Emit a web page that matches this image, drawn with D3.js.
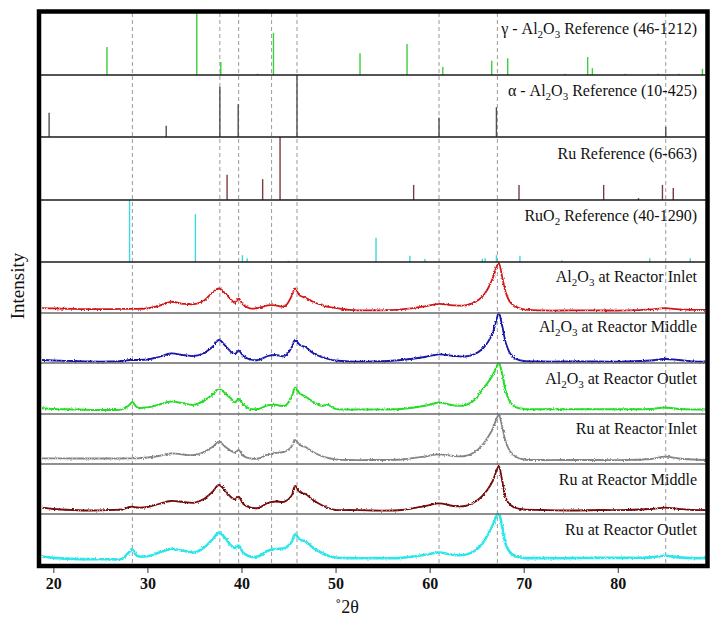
<!DOCTYPE html>
<html>
<head>
<meta charset="utf-8">
<script src="https://cdn.jsdelivr.net/npm/d3@7/dist/d3.min.js"></script>
<style>
  html, body { margin: 0; padding: 0; background: #fff; }
  svg { display: block; }
  text { font-family: 'Liberation Serif', 'DejaVu Serif', serif; fill: #111; }
</style>
</head>
<body>
<svg id="chart" width="710" height="617"></svg>
<script>
// ---- data -------------------------------------------------------------
// stick patterns of the reference cards: [2θ, relative intensity %]
const gammaAl2O3Ref = [[25.7,45],[35.25,100],[37.8,21],[41.7,2],[43.4,68],[52.6,35],[57.6,50],[61.4,13],
  [66.6,23],[68.3,27],[74.4,2],[76.8,29],[77.3,11],[80.8,2],[84.3,2],[86.5,2],[89.0,10]];
const alphaAl2O3Ref = [[19.55,39],[32.0,18],[37.7,81],[39.65,53],[45.9,100],[61.0,31],[67.1,48],[85.1,16]];
const ruRef = [[38.47,40],[42.25,33],[44.1,100],[58.3,24],[69.5,24],[78.5,24],[82.2,3],[84.75,24],[85.9,19]];
const ruO2Ref = [[28.1,100],[35.1,77],[40.1,11],[40.6,6],[44.97,2],[54.3,39],[57.9,10],[59.5,5],[65.6,5],
  [65.9,6],[67.1,11],[69.6,10],[74.05,3],[83.4,6],[87.7,6]];

// measured patterns, sampled on a common 2θ grid (relative intensity %)
const twoTheta = [18.8,20,22,24,26,27.3,28.1,28.4,28.9,30,31.2,32.5,33.8,35,36,36.9,37.6,38.3,38.9,39.3,
  39.7,40.2,40.9,41.8,42.8,43.6,44.6,45.3,45.7,46.2,46.8,47.6,48.5,49.2,50,51.5,54,57,59.5,61,
  62.5,63.8,64.8,65.6,66.2,66.7,67.1,67.35,67.7,68.1,68.6,69.2,70,72,75,78,81,83.5,85,86.5,88,89.4];
const al2o3Inlet = [9.4,9,8,7.6,7.6,8,8,8.4,8,9,14,22,18,17.4,24,40,48,38,26,20,28,16,9,10,15,15,13,32,48,34,
  30,22,16,12,10,6,5,7,13,18,15,15,21,32,48,68,90,98,72,40,20,12,7,5,5,5,5,7,9.4,7,6,6];
const al2o3Middle = [6,5,4,3,3,4,6,6,6,7,12,19,16,14,20,32,46,34,22,18,24.6,14,7,6,14,16,14,30,46,36,
  32,20,12,8,5,3,3,6,12,17.4,14,13,18,28,42,60,86,100,76,40,18,8,4,3,3,3,3,5,8,6,3,3];
const al2o3Outlet = [11.4,10,9,8,8,9,18,23.4,13,13,18,24.6,21,18,26,38,49.4,40,30,22.6,30,18,10,10,17,18,16,32,51.4,40,
  34,24,16,18,10,9,9,10,16,22.6,17,17,28,48,62,76,92,100,80,44,22,13,10,9.4,9.4,9.4,9.4,10,12.6,10,9,9];
const ruInlet = [11.4,11.4,11,11,11,11,11.4,11.4,11.4,13,16,21.4,19,18,24,34,44.6,34,26,22.6,28,16,11.4,11,19,22,24.6,34,48,38,
  34,24,16,12,9.4,8,8,9,15,19.4,16,16,24,38,54,70,90,98,76,44,24,14,9,8,8,8,8,10,14.6,11,9,8];
const ruMiddle = [12.6,10,8,7,8,9,14,14.6,13,14,20,26,24,22.6,30,44,58,46,33.4,29.4,34.6,20,13.4,12,22,25,24.6,36,56,44,
  40,28,18,12,8,8,7,8,16,21.4,16,16,24,36,50,66,86,96,68,32,18,12,9,8,7,8,8,10,12.6,10,8,8];
const ruOutlet = [16.6,14,12,11.4,11.4,12,26,30,18,17,24,31.4,28,24.6,34,50,63.4,52,38,33.4,38,24,16.6,17,28,31.4,33.4,44,60,50,
  46,34,24,18,14.6,13.4,13.4,14,20,24.6,20,20,28,42,60,78,96,100,76,40,24,16.6,14,13.4,13.4,14,14,15,18,15,13.4,13.4];

// guide lines at the main reflections
const guides2Theta = [28.4, 37.7, 39.7, 43.2, 45.9, 61.0, 67.2, 85.1];
const xTicks = [20, 30, 40, 50, 60, 70, 80];

// panel stack, top to bottom
const refPanels = [
  { name: ["γ - Al", "2", "O", "3", " Reference (46-1212)"], sticks: gammaAl2O3Ref, color: "#3ccf3c" },
  { name: ["α - Al", "2", "O", "3", " Reference (10-425)"], sticks: alphaAl2O3Ref, color: "#505050" },
  { name: ["Ru Reference (6-663)"], sticks: ruRef, color: "#7d3b3b" },
  { name: ["RuO", "2", " Reference (40-1290)"], sticks: ruO2Ref, color: "#3cd8dc" }
];
const samplePanels = [
  { name: ["Al", "2", "O", "3", " at Reactor Inlet"], values: al2o3Inlet, color: "#d01818", w: 1.8 },
  { name: ["Al", "2", "O", "3", " at Reactor Middle"], values: al2o3Middle, color: "#1414a8", w: 1.8 },
  { name: ["Al", "2", "O", "3", " at Reactor Outlet"], values: al2o3Outlet, color: "#28dc28", w: 2 },
  { name: ["Ru at Reactor Inlet"], values: ruInlet, color: "#858585", w: 1.8 },
  { name: ["Ru at Reactor Middle"], values: ruMiddle, color: "#720808", w: 1.8 },
  { name: ["Ru at Reactor Outlet"], values: ruOutlet, color: "#2fe6ea", w: 2.6 }
];

const SERIF = "'Liberation Serif', 'DejaVu Serif', serif";
const LABEL_SIZE = 16;

// ---- layout -----------------------------------------------------------
const svg = d3.select("#chart");
const plot = { left: 41, right: 705.5, top: 13, bottom: 565 };
const bounds = [13, 75, 137, 200, 262, 313, 363, 414, 464, 514, 565];

const x = d3.scaleLinear().domain([18.72, 89.4]).range([41.3, 706.2]);

// slight jitter texture for the measured traces
const defs = svg.append("defs");
const f = defs.append("filter").attr("id", "grain")
  .attr("x", "-2%").attr("y", "-20%").attr("width", "104%").attr("height", "140%");
f.append("feTurbulence").attr("type", "fractalNoise").attr("baseFrequency", "0.9 0.6")
  .attr("numOctaves", 1).attr("seed", 3).attr("result", "n");
f.append("feDisplacementMap").attr("in", "SourceGraphic").attr("in2", "n")
  .attr("scale", 3).attr("xChannelSelector", "R").attr("yChannelSelector", "G");

// dashed guides
svg.append("g").selectAll("line").data(guides2Theta).join("line")
  .attr("x1", d => x(d)).attr("x2", d => x(d))
  .attr("y1", plot.top).attr("y2", plot.bottom)
  .attr("stroke", "#9a9a9a").attr("stroke-width", 1)
  .attr("stroke-dasharray", "4,3");

// panel name with chemical subscripts
function addLabel(parts, baseline) {
  const t = svg.append("text")
    .attr("x", 697).attr("y", baseline)
    .attr("text-anchor", "end")
    .style("font-family", SERIF).attr("font-size", LABEL_SIZE);
  let lowered = false;
  parts.forEach((p, i) => {
    const sub = i > 0 && /^[0-9]$/.test(p);
    const dy = sub ? (lowered ? 0 : 4) : (lowered ? -4 : 0);
    lowered = sub;
    t.append("tspan").text(p)
      .attr("font-size", sub ? 11 : LABEL_SIZE)
      .attr("dy", dy);
  });
  return t;
}

const labelBaselines = [34, 96, 159, 221, 282, 332, 384, 434, 485, 535];

// reference stick panels
refPanels.forEach((p, i) => {
  const y = d3.scaleLinear().domain([0, 100]).range([bounds[i + 1], bounds[i]]);
  svg.append("g").selectAll("line").data(p.sticks).join("line")
    .attr("x1", d => x(d[0])).attr("x2", d => x(d[0]))
    .attr("y1", y(0)).attr("y2", d => y(d[1]))
    .attr("stroke", p.color).attr("stroke-width", 1.4);
});

// measured patterns
samplePanels.forEach((p, i) => {
  const k = i + 4;
  const y = d3.scaleLinear().domain([0, 100]).range([bounds[k + 1], bounds[k]]);
  const line = d3.line().x((d, j) => x(twoTheta[j])).y(d => y(d)).curve(d3.curveCatmullRom.alpha(0.5));
  svg.append("path").datum(p.values)
    .attr("d", line).attr("fill", "none")
    .attr("stroke", p.color).attr("stroke-width", p.w)
    .attr("stroke-linejoin", "round")
    .attr("filter", "url(#grain)");
});

// panel separators
svg.append("g").selectAll("line").data(bounds.slice(1, -1)).join("line")
  .attr("x1", plot.left).attr("x2", plot.right)
  .attr("y1", d => d).attr("y2", d => d)
  .attr("stroke", (d, i) => i < 4 ? "#1a1a1a" : "#6a6a6a")
  .attr("stroke-width", 1.6);

// panel names
refPanels.concat(samplePanels).forEach((p, i) => addLabel(p.name, labelBaselines[i]));

// outer frame
svg.append("rect")
  .attr("x", 39).attr("y", 11.5).attr("width", 668.5).attr("height", 554.5)
  .attr("fill", "none").attr("stroke", "#000").attr("stroke-width", 4.5);

// x axis
const xAxis = d3.axisBottom(x).tickValues(xTicks).tickSize(5).tickPadding(5).tickFormat(d3.format("d"));
const gx = svg.append("g").attr("transform", "translate(0,568)").call(xAxis);
gx.attr("font-family", SERIF);
gx.select(".domain").remove();
gx.selectAll(".tick line").attr("stroke", "#333");
gx.selectAll(".tick text")
  .style("font-family", SERIF)
  .attr("font-size", 16).attr("font-weight", "bold").attr("fill", "#111");

svg.append("text").attr("x", 347).attr("y", 613)
  .style("font-family", SERIF)
  .attr("text-anchor", "middle").attr("font-size", 18).text("˚2θ");

svg.append("text")
  .attr("transform", "translate(24,286) rotate(-90)")
  .style("font-family", SERIF)
  .attr("text-anchor", "middle").attr("font-size", 19).text("Intensity");
</script>
</body>
</html>
